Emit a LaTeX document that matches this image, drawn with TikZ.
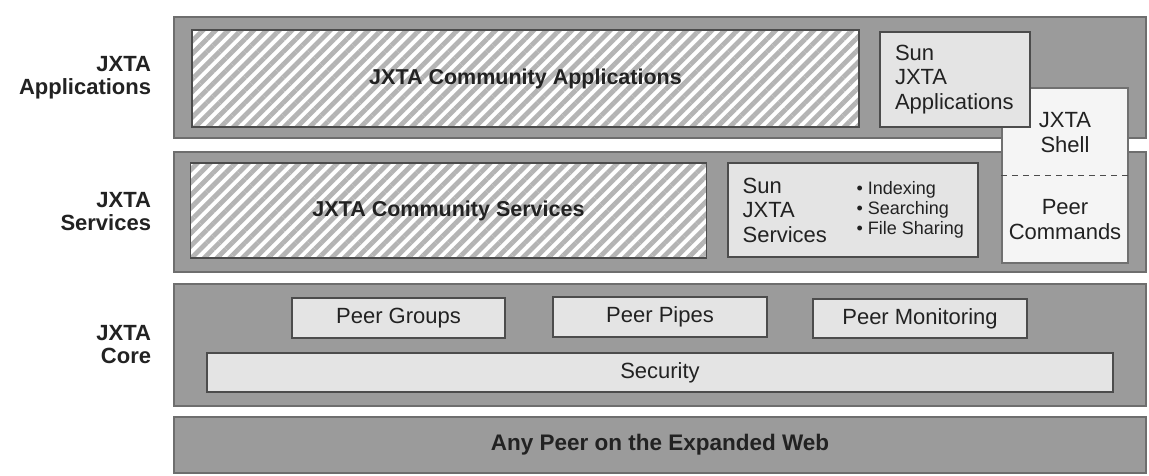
\documentclass[tikz,border=0pt]{standalone}
\usepackage{fontspec}
\setmainfont{Liberation Sans}
\usetikzlibrary{positioning,calc,patterns.meta}
\definecolor{layergray}{HTML}{9B9B9B}
\definecolor{layerline}{HTML}{6E6E6E}
\definecolor{boxgray}{HTML}{E4E4E4}
\definecolor{boxline}{HTML}{4C4C4C}
\definecolor{shellwhite}{HTML}{F5F5F5}
\definecolor{stripegray}{HTML}{B4B4B4}
\definecolor{inkgray}{HTML}{222222}

\begin{document}
\begin{tikzpicture}[x=1pt, y=-1pt,
    layer/.style={rectangle, draw=layerline, fill=layergray, line width=1.5pt, minimum width=972pt, inner sep=0pt, text=inkgray, font=\fontsize{22.5}{23}\selectfont\bfseries},
    box/.style={rectangle, draw=boxline, fill=boxgray, line width=1.2pt, inner sep=0pt, text=inkgray, font=\fontsize{22}{24.5}\selectfont},
    hatchbox/.style={box, preaction={fill=white}, pattern={Lines[angle=45, distance=9pt, line width=4.8pt]}, pattern color=stripegray, font=\fontsize{21.5}{23}\selectfont\bfseries},
    shellbox/.style={box, fill=shellwhite, draw=boxline!80},
    sidelabel/.style={align=right, inner sep=0pt, text=inkgray, font=\fontsize{22}{23}\selectfont\bfseries},
    plain/.style={align=left, inner sep=0pt, text=inkgray, font=\fontsize{22}{24.5}\selectfont},
    bullets/.style={plain, font=\fontsize{18}{20}\selectfont}]

    \useasboundingbox (0,0) rectangle (1149,475);

    \node [layer, minimum height=121pt] (applayer) at (660,77.5) {};
    \node [layer, minimum height=120pt] (srvlayer) at (660,212) {};
    \node [layer, minimum height=122pt] (corelayer) at (660,345) {};
    \node [layer, minimum height=56pt] (weblayer) at (660,445) {Any Peer on the Expanded Web};

    \node [sidelabel, left=22pt of applayer] (applabel) {JXTA\\Applications};
    \node [sidelabel, left=22pt of srvlayer] (srvlabel) {JXTA\\Services};
    \node [sidelabel, left=22pt of corelayer] (corelabel) {JXTA\\Core};

    \node [shellbox, minimum width=126pt, minimum height=175pt] (shell) at (1065,175.5) {};
    \draw [boxline, line width=1.2pt, dash pattern=on 6pt off 5pt] (shell.west) -- (shell.east);
    \node [plain, align=center] (shelltext) at ($(shell.north)!0.5!(shell.center)+(0,1)$) {JXTA\\Shell};
    \node [plain, align=center] (cmdtext) at ($(shell.south)!0.5!(shell.center)$) {Peer\\Commands};

    \node [hatchbox, minimum width=667pt, minimum height=97pt] (commapps) at (525.5,78.5) {JXTA Community Applications};
    \node [box, align=left, text width=120pt, inner xsep=15pt, minimum height=95pt] (sunapps) at (955,79.5) {Sun\\JXTA\\Applications};

    \node [hatchbox, minimum width=516pt, minimum height=95pt] (commsrv) at (448.5,210.5) {JXTA Community Services};
    \node [box, minimum width=250pt, minimum height=94pt] (sunsrv) at (853,210) {};
    \node [plain, anchor=west] (sunsrvtext) at ([xshift=15pt]sunsrv.west) {Sun\\JXTA\\Services};
    \node [bullets, anchor=west] (sunsrvlist) at ([xshift=129pt]sunsrv.west) {• Indexing\\• Searching\\• File Sharing};

    \node [box, minimum width=213pt, minimum height=40pt] (groups) at (398.5,318) {Peer Groups};
    \node [box, minimum width=214pt, minimum height=40pt] (pipes) at (660,317) {Peer Pipes};
    \node [box, minimum width=214pt, minimum height=39pt] (monitor) at (920,318.5) {Peer Monitoring};
    \node [box, minimum width=906pt, minimum height=39pt] (security) at (660,372.5) {Security};
\end{tikzpicture}
\end{document}
